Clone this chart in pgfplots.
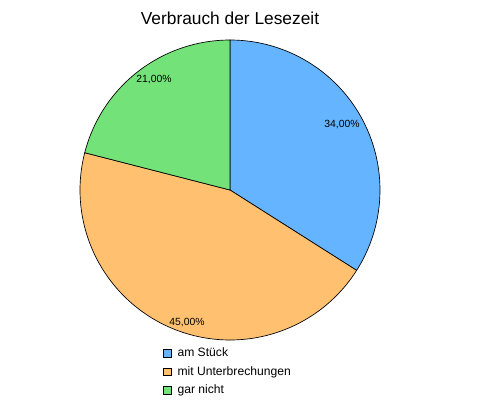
\documentclass[border=0pt]{standalone}
\usepackage{fontspec}
\setmainfont{Liberation Sans}
\usepackage{pgfplots}
\pgfplotsset{compat=1.18}
\definecolor{cA}{RGB}{100,180,255}
\definecolor{cB}{RGB}{255,192,112}
\definecolor{cC}{RGB}{115,226,120}
% data (percent)
\def\vA{34}
\def\vB{45}
\def\vC{21}
\pgfmathsetmacro\aZ{90}
\pgfmathsetmacro\aA{\aZ-3.6*\vA}
\pgfmathsetmacro\aB{\aA-3.6*\vB}
\pgfmathsetmacro\aC{\aB-3.6*\vC}
\def\cx{230}
\def\cy{225}
\def\rr{150}
\begin{document}
\begin{tikzpicture}
\begin{axis}[
  scale only axis, width=359.25pt, height=311.25pt,
  xmin=0, xmax=479, ymin=0, ymax=415,
  hide axis, clip=false,
  area legend,
  legend image code/.code={\draw[#1,draw=black,line width=0.6pt] (0pt,-2.8pt) rectangle (5.6pt,2.8pt);},
  legend cell align=left,
  legend style={at={(axis cs:163,68.5)}, anchor=north west, draw=none, fill=none,
    font=\fontsize{9.1}{10}\selectfont, inner sep=0pt, row sep=3.7pt,
    /tikz/every odd column/.append style={column sep=3.5pt}},
  legend style={nodes={inner sep=1pt}},
]
\path (axis cs:0,0) rectangle (axis cs:479,415);
\addplot[fill=cA, draw=black, line width=0.5pt, domain=\aA:\aZ, samples=90] ({\cx+\rr*cos(x)},{\cy+\rr*sin(x)}) -- (axis cs:\cx,\cy) -- cycle;
\addlegendentry{am Stück}
\addplot[fill=cB, draw=black, line width=0.5pt, domain=\aB:\aA, samples=120] ({\cx+\rr*cos(x)},{\cy+\rr*sin(x)}) -- (axis cs:\cx,\cy) -- cycle;
\addlegendentry{mit Unterbrechungen}
\addplot[fill=cC, draw=black, line width=0.5pt, domain=\aC:\aB, samples=60] ({\cx+\rr*cos(x)},{\cy+\rr*sin(x)}) -- (axis cs:\cx,\cy) -- cycle;
\addlegendentry{gar nicht}
\node[font=\fontsize{7.8}{9}\selectfont] at (axis cs:342,290) {34,00\%};
\node[font=\fontsize{7.8}{9}\selectfont] at (axis cs:187,92) {45,00\%};
\node[font=\fontsize{7.8}{9}\selectfont] at (axis cs:154,335) {21,00\%};
\node[font=\fontsize{13}{15}\selectfont] at (axis cs:230,397) {Verbrauch der Lesezeit};
\end{axis}
\end{tikzpicture}
\end{document}
